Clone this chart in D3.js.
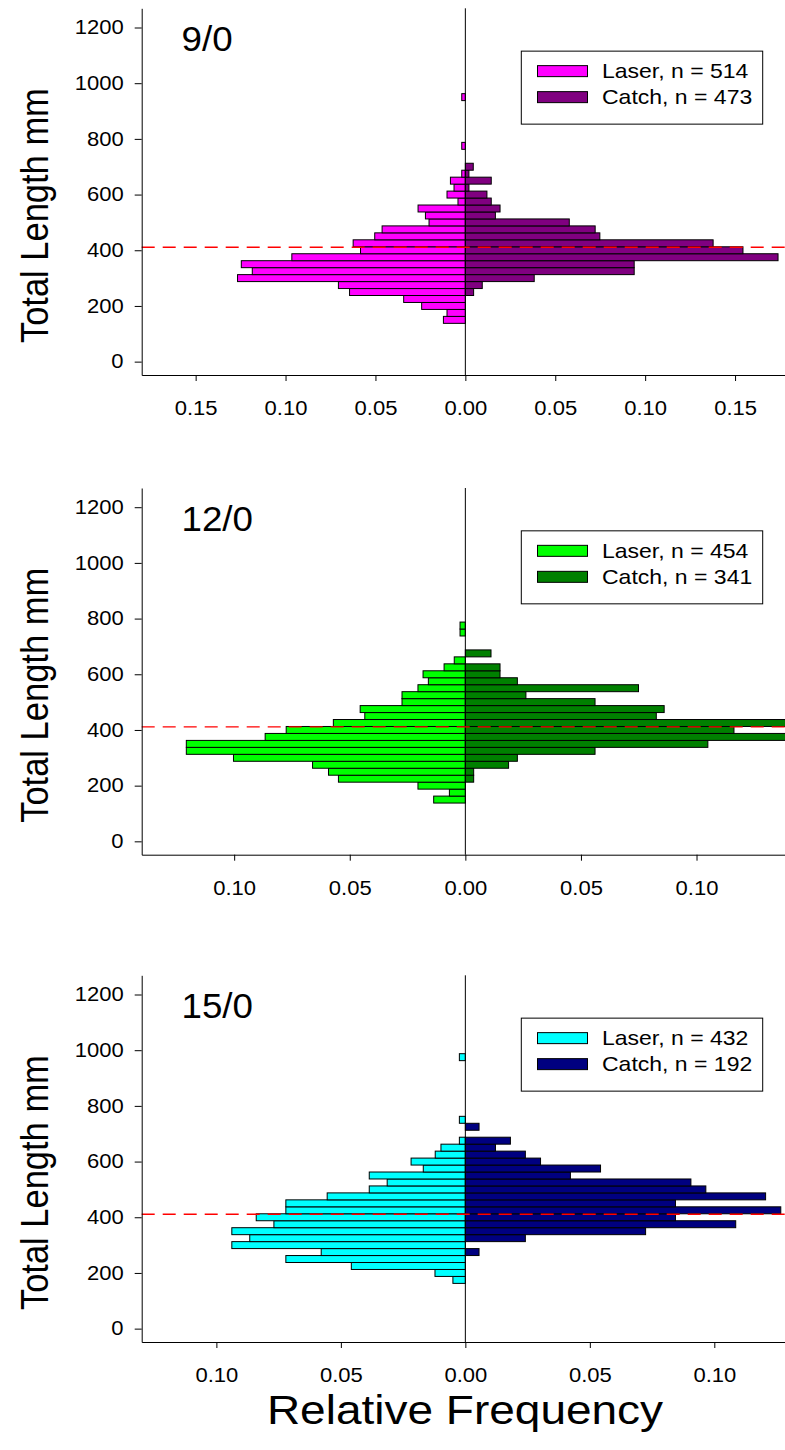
<!DOCTYPE html>
<html>
<head>
<meta charset="utf-8">
<script src="https://cdn.jsdelivr.net/npm/d3@7"></script>
<style>
  body { margin: 0; background: #fff; }
  svg { display: block; }
  text { font-family: "Liberation Sans", Arial, sans-serif; fill: #000; }
</style>
</head>
<body>
<script>
// Length-class centres (mm), 25 mm classes
const lengthBins = [150,175,200,225,250,275,300,325,350,375,400,425,450,475,500,525,550,575,600,625,650,675,700,725,750,775,800,825,850,875,900,925,950,975];

// Relative frequency per length class
const laser9  = [0.0122,0.0102,0.0243,0.0343,0.0644,0.0706,0.1267,0.1185,0.1246,0.0965,0.0583,0.0624,0.0504,0.0463,0.0202,0.0222,0.0263,0.0041,0.0102,0.0063,0.0083,0.0020,0,0,0,0.0020,0,0,0,0,0,0,0.0020,0];
const catch9  = [0,0,0,0,0.0046,0.0094,0.0383,0.0939,0.0939,0.1739,0.1544,0.1378,0.0748,0.0722,0.0578,0.0167,0.0193,0.0144,0.0120,0.0020,0.0144,0.0020,0.0044,0,0,0,0,0,0,0,0,0,0,0];
const laser12 = [0.0137,0.0069,0.0205,0.0549,0.0592,0.0661,0.1003,0.1207,0.1207,0.0866,0.0775,0.0571,0.0435,0.0455,0.0274,0.0274,0.0205,0.0160,0.0183,0.0092,0.0048,0,0,0,0.0023,0.0023,0,0,0,0,0,0,0,0];
const catch12 = [0,0,0,0.0036,0.0036,0.0187,0.0225,0.0561,0.1049,0.1437,0.1162,0.1408,0.0826,0.0860,0.0561,0.0262,0.0749,0.0225,0.0150,0.0150,0,0.0111,0,0,0,0,0,0,0,0,0,0,0,0];
const laser15 = [0,0.0050,0.0122,0.0458,0.0721,0.0579,0.0938,0.0866,0.0938,0.0769,0.0840,0.0721,0.0721,0.0555,0.0386,0.0314,0.0386,0.0169,0.0218,0.0121,0.0098,0.0024,0,0,0.0024,0,0,0,0,0,0,0,0,0.0024];
const catch15 = [0,0,0,0,0,0.0055,0,0.0241,0.0724,0.1086,0.0844,0.1267,0.0844,0.1206,0.0966,0.0906,0.0422,0.0543,0.0302,0.0241,0.0121,0.0181,0,0.0055,0,0,0,0,0,0,0,0,0,0];

const panelTitles = ["9/0", "12/0", "15/0"];
const laserLabels = ["Laser, n = 514", "Laser, n = 454", "Laser, n = 432"];
const catchLabels = ["Catch, n = 473", "Catch, n = 341", "Catch, n = 192"];
const freqLimits  = [0.18, 0.14, 0.13];
const freqTicks   = [
  [-0.15, -0.10, -0.05, 0, 0.05, 0.10, 0.15],
  [-0.10, -0.05, 0, 0.05, 0.10],
  [-0.10, -0.05, 0, 0.05, 0.10]
];
const lengthTicks = [0, 200, 400, 600, 800, 1000, 1200];
const lengthDomain = [-48, 1269];
const legalSize = 411;   // reference length (mm), dashed line

const laserSeries = [laser9, laser12, laser15];
const catchSeries = [catch9, catch12, catch15];
const laserColors = ["#ff00ff", "#00ff00", "#00ffff"];
const catchColors = ["#800080", "#008000", "#000080"];

const W = 785, H = 1450;
const plotLeft = 141.7, plotRight = 789;
const plotBottoms = [375, 854.7, 1342];
const plotHeight = 366.7;
const binWidth = 25;
const TX = 1.13;   // horizontal stretch of the lettering

const svg = d3.select("body").append("svg")
  .attr("width", W).attr("height", H);

panelTitles.forEach((title, p) => {
  const bottom = plotBottoms[p];
  const top = bottom - plotHeight;

  const x = d3.scaleLinear().domain([-freqLimits[p], freqLimits[p]]).range([plotLeft, plotRight]);
  const y = d3.scaleLinear().domain(lengthDomain).range([bottom, top]);

  const g = svg.append("g");

  const clipId = "clip" + p;
  g.append("clipPath").attr("id", clipId)
    .append("rect").attr("x", plotLeft).attr("y", top)
    .attr("width", plotRight - plotLeft).attr("height", plotHeight);

  const bars = g.append("g").attr("clip-path", `url(#${clipId})`);

  const rows = lengthBins.map((c, i) => ({ c, laser: laserSeries[p][i], catch: catchSeries[p][i] }));

  // Laser (left) bars
  bars.selectAll("rect.laser").data(rows.filter(d => d.laser > 0)).join("rect")
    .attr("class", "laser")
    .attr("x", d => x(-d.laser))
    .attr("width", d => x(0) - x(-d.laser))
    .attr("y", d => y(d.c + binWidth / 2))
    .attr("height", d => y(d.c - binWidth / 2) - y(d.c + binWidth / 2))
    .attr("fill", laserColors[p])
    .attr("stroke", "#000").attr("stroke-width", 1);

  // Catch (right) bars
  bars.selectAll("rect.catch").data(rows.filter(d => d.catch > 0)).join("rect")
    .attr("class", "catch")
    .attr("x", x(0))
    .attr("width", d => x(d.catch) - x(0))
    .attr("y", d => y(d.c + binWidth / 2))
    .attr("height", d => y(d.c - binWidth / 2) - y(d.c + binWidth / 2))
    .attr("fill", catchColors[p])
    .attr("stroke", "#000").attr("stroke-width", 1);

  // Zero line
  g.append("line")
    .attr("x1", x(0)).attr("x2", x(0))
    .attr("y1", top).attr("y2", bottom)
    .attr("stroke", "#000").attr("stroke-width", 1);

  // Dashed reference length
  g.append("line")
    .attr("x1", plotLeft).attr("x2", plotRight)
    .attr("y1", y(legalSize)).attr("y2", y(legalSize))
    .attr("stroke", "#ff0000").attr("stroke-width", 1.4)
    .attr("stroke-dasharray", "13,8");

  // Axes
  const yAxis = g.append("g").attr("transform", `translate(${plotLeft},0)`)
    .call(d3.axisLeft(y).tickValues(lengthTicks).tickSize(7).tickSizeOuter(0).tickPadding(9)
      .tickFormat(d3.format("d")));
  yAxis.selectAll("text").style("font-size", "19.5px")
    .attr("transform", `scale(${TX},1)`);

  const xAxis = g.append("g").attr("transform", `translate(0,${bottom})`)
    .call(d3.axisBottom(x).tickValues(freqTicks[p]).tickSize(6).tickSizeOuter(0).tickPadding(20)
      .tickFormat(d => d3.format(".2f")(Math.abs(d))));
  xAxis.selectAll("text").style("font-size", "19.5px")
    .attr("transform", `scale(${TX},1)`);

  g.selectAll(".domain, .tick line").attr("stroke", "#000");

  // Panel title
  g.append("text")
    .attr("transform", `translate(181.5,${y(0) - 310.5}) scale(1.05,1)`)
    .style("font-size", "35px")
    .text(title);

  // Y axis title
  g.append("text")
    .attr("transform", `translate(48,${y(0) - 146}) rotate(-90) scale(1,${TX})`)
    .attr("text-anchor", "middle")
    .style("font-size", "34.5px")
    .text("Total Length mm");

  // Legend
  const legBottom = y(0) - 237.5;
  const leg = g.append("g");
  leg.append("rect")
    .attr("x", 521.3).attr("y", legBottom - 73)
    .attr("width", 762.7 - 521.3).attr("height", 73)
    .attr("fill", "#fff").attr("stroke", "#000").attr("stroke-width", 1);
  [[laserLabels[p], laserColors[p], legBottom - 53], [catchLabels[p], catchColors[p], legBottom - 27]]
    .forEach(([label, color, cy]) => {
      leg.append("rect")
        .attr("x", 537.5).attr("y", cy - 5.5)
        .attr("width", 50).attr("height", 11)
        .attr("fill", color).attr("stroke", "#000").attr("stroke-width", 1);
      leg.append("text")
        .attr("transform", `translate(602,${cy + 7}) scale(1.15,1)`)
        .style("font-size", "20px")
        .text(label);
    });
});

// Shared x axis title
svg.append("text")
  .attr("transform", `translate(465,1424) scale(1.15,1)`)
  .attr("text-anchor", "middle")
  .style("font-size", "40px")
  .text("Relative Frequency");
</script>
</body>
</html>
